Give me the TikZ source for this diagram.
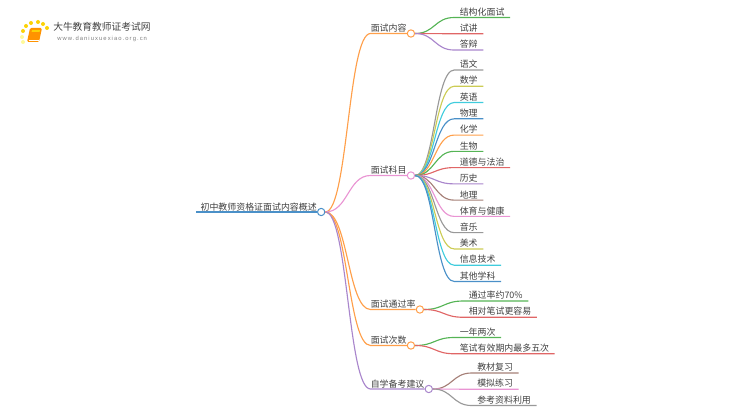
\documentclass[tikz,border=0pt]{standalone}
\usepackage{fontspec}
\setmainfont{Noto Sans CJK SC}
\newfontfamily\sitefont[LetterSpace=18]{Liberation Sans}
\usetikzlibrary{positioning,calc}
\definecolor{txtgray}{HTML}{404040}
\definecolor{lblue}{HTML}{4A90C8}
\definecolor{lorange}{HTML}{FF9F4A}
\definecolor{lgreen}{HTML}{55B455}
\definecolor{lred}{HTML}{E06666}
\definecolor{lpurple}{HTML}{A986CC}
\definecolor{lbrown}{HTML}{A57F77}
\definecolor{lpink}{HTML}{E994D3}
\definecolor{lgray}{HTML}{999999}
\definecolor{lolive}{HTML}{CCCC55}
\definecolor{lcyan}{HTML}{40CCDD}
\tikzset{
  leaf/.style={font=\fontsize{6.7pt}{8pt}\selectfont, text=txtgray, inner xsep=4pt, inner ysep=1pt, anchor=south west},
  nextleaf/.style={below=12.2pt of #1.south west, anchor=south west},
  topic/.style={leaf, inner xsep=0pt, inner ysep=0.6pt},
  dot/.style={circle, draw, fill=white, line width=0.75pt, minimum size=5.5pt, inner sep=0pt},
  link/.style={line width=0.85pt, to path={let \p1=(\tikztostart), \p2=(\tikztotarget) in
    .. controls ({(\x1+\x2)/2},\y1) and ({(\x1+\x2)/2},\y2) .. (\p2)}},
  sundot/.style={circle, fill=#1, inner sep=0pt, minimum size=3pt}
}
\begin{document}
\begin{tikzpicture}[x=0.75pt, y=-0.75pt]
\useasboundingbox (0,0) rectangle (750,410);
% logo
\node[sundot=yellow!70!orange] at (23,31) {};
\node[sundot=yellow!70!orange] at (26,26) {};
\node[sundot=yellow!70!orange] at (31,23) {};
\node[sundot=yellow!70!orange] at (38,22) {};
\node[sundot=yellow!70!orange] at (43,24) {};
\node[sundot=yellow!70!orange] at (47,28) {};
\node[sundot=yellow!40] at (22,37) {};
\node[sundot=yellow!40] at (23,42) {};
\fill[orange!85!yellow, rounded corners=1pt] (30,28) -- (42,28) -- (39,42) -- (27,42) -- cycle;
\fill[yellow!70!orange] (32,30) -- (40,30) -- (39.5,32) -- (31.5,32) -- cycle;
\draw[white, line width=0.4pt] (28.5,40) -- (38.5,40);
\node (brand) [font=\fontsize{7.3pt}{9pt}\selectfont, text=txtgray, inner sep=0pt, anchor=west] at (53,27) {大牛教育教师证考试网};
\node (site) [font=\sitefont\fontsize{4.4pt}{6pt}\selectfont, text=gray, inner sep=0pt, anchor=west] at (57,39) {www.daniuxuexiao.org.cn};
% root
\node (root) [topic, anchor=south east] at (317,212) {初中教师资格证面试内容概述};
\node (rootdot) [dot, draw=lblue, right=0pt of root.south east, anchor=west] {};
\coordinate (rootstart) at (196,212);
% topics
\node (neirong) [topic] at (370.5,33.5) {面试内容};
\node (neirongdot) [dot, draw=lorange, right=0pt of neirong.south east, anchor=west] {};
\node (kemu) [topic] at (370.5,175.5) {面试科目};
\node (kemudot) [dot, draw=lpink, right=0pt of kemu.south east, anchor=west] {};
\node (tongguo) [topic] at (370.5,309.5) {面试通过率};
\node (tongguodot) [dot, draw=lorange, right=0pt of tongguo.south east, anchor=west] {};
\node (cishu) [topic] at (370.5,345.5) {面试次数};
\node (cishudot) [dot, draw=lorange, right=0pt of cishu.south east, anchor=west] {};
\node (beikao) [topic] at (370.5,389) {自学备考建议};
\node (beikaodot) [dot, draw=lpurple, right=0pt of beikao.south east, anchor=west] {};
% leaves
\node (jiegou) [leaf] at (454.2,17.5) {结构化面试};
\node (shijiang) [leaf, nextleaf=jiegou] {试讲};
\node (dabian) [leaf, nextleaf=shijiang] {答辩};
\node (yuwen) [leaf] at (454.2,70) {语文};
\node (shuxue) [leaf, nextleaf=yuwen] {数学};
\node (yingyu) [leaf, nextleaf=shuxue] {英语};
\node (wuli) [leaf, nextleaf=yingyu] {物理};
\node (huaxue) [leaf, nextleaf=wuli] {化学};
\node (shengwu) [leaf, nextleaf=huaxue] {生物};
\node (daode) [leaf, nextleaf=shengwu] {道德与法治};
\node (lishi) [leaf, nextleaf=daode] {历史};
\node (dili) [leaf, nextleaf=lishi] {地理};
\node (tiyu) [leaf, nextleaf=dili] {体育与健康};
\node (yinyue) [leaf, nextleaf=tiyu] {音乐};
\node (meishu) [leaf, nextleaf=yinyue] {美术};
\node (xinxi) [leaf, nextleaf=meishu] {信息技术};
\node (qita) [leaf, nextleaf=xinxi] {其他学科};
\node (lv) [leaf] at (463.2,301) {通过率约70\%};
\node (rongyi) [leaf, nextleaf=lv] {相对笔试更容易};
\node (liangci) [leaf] at (454.2,337.5) {一年两次};
\node (wuci) [leaf, nextleaf=liangci] {笔试有效期内最多五次};
\node (jiaocai) [leaf] at (471.7,373) {教材复习};
\node (moni) [leaf, nextleaf=jiaocai] {模拟练习};
\node (ziliao) [leaf, nextleaf=moni] {参考资料利用};
% connectors
\draw[line width=0.85pt, lblue] (rootstart) -- (rootdot.west);
\draw[link, lorange] (rootdot.east) to (neirong.south west) -- (neirongdot.west);
\draw[link, lpink] (rootdot.east) to (kemu.south west) -- (kemudot.west);
\draw[link, lorange] (rootdot.east) to (tongguo.south west) -- (tongguodot.west);
\draw[link, lorange] (rootdot.east) to (cishu.south west) -- (cishudot.west);
\draw[link, lpurple] (rootdot.east) to (beikao.south west) -- (beikaodot.west);
\draw[link, lgreen] (neirongdot.east) to (jiegou.south west) -- (jiegou.south east);
\draw[link, lred] (neirongdot.east) to (shijiang.south west) -- (shijiang.south east);
\draw[link, lpurple] (neirongdot.east) to (dabian.south west) -- (dabian.south east);
\draw[link, lgray] (kemudot.east) to (yuwen.south west) -- (yuwen.south east);
\draw[link, lolive] (kemudot.east) to (shuxue.south west) -- (shuxue.south east);
\draw[link, lcyan] (kemudot.east) to (yingyu.south west) -- (yingyu.south east);
\draw[link, lblue] (kemudot.east) to (wuli.south west) -- (wuli.south east);
\draw[link, lorange] (kemudot.east) to (huaxue.south west) -- (huaxue.south east);
\draw[link, lgreen] (kemudot.east) to (shengwu.south west) -- (shengwu.south east);
\draw[link, lred] (kemudot.east) to (daode.south west) -- (daode.south east);
\draw[link, lpurple] (kemudot.east) to (lishi.south west) -- (lishi.south east);
\draw[link, lbrown] (kemudot.east) to (dili.south west) -- (dili.south east);
\draw[link, lpink] (kemudot.east) to (tiyu.south west) -- (tiyu.south east);
\draw[link, lgray] (kemudot.east) to (yinyue.south west) -- (yinyue.south east);
\draw[link, lolive] (kemudot.east) to (meishu.south west) -- (meishu.south east);
\draw[link, lcyan] (kemudot.east) to (xinxi.south west) -- (xinxi.south east);
\draw[link, lblue] (kemudot.east) to (qita.south west) -- (qita.south east);
\draw[link, lgreen] (tongguodot.east) to (lv.south west) -- (lv.south east);
\draw[link, lred] (tongguodot.east) to (rongyi.south west) -- (rongyi.south east);
\draw[link, lgreen] (cishudot.east) to (liangci.south west) -- (liangci.south east);
\draw[link, lred] (cishudot.east) to (wuci.south west) -- (wuci.south east);
\draw[link, lbrown] (beikaodot.east) to (jiaocai.south west) -- (jiaocai.south east);
\draw[link, lpink] (beikaodot.east) to (moni.south west) -- (moni.south east);
\draw[link, lgray] (beikaodot.east) to (ziliao.south west) -- (ziliao.south east);
\end{tikzpicture}
\end{document}
